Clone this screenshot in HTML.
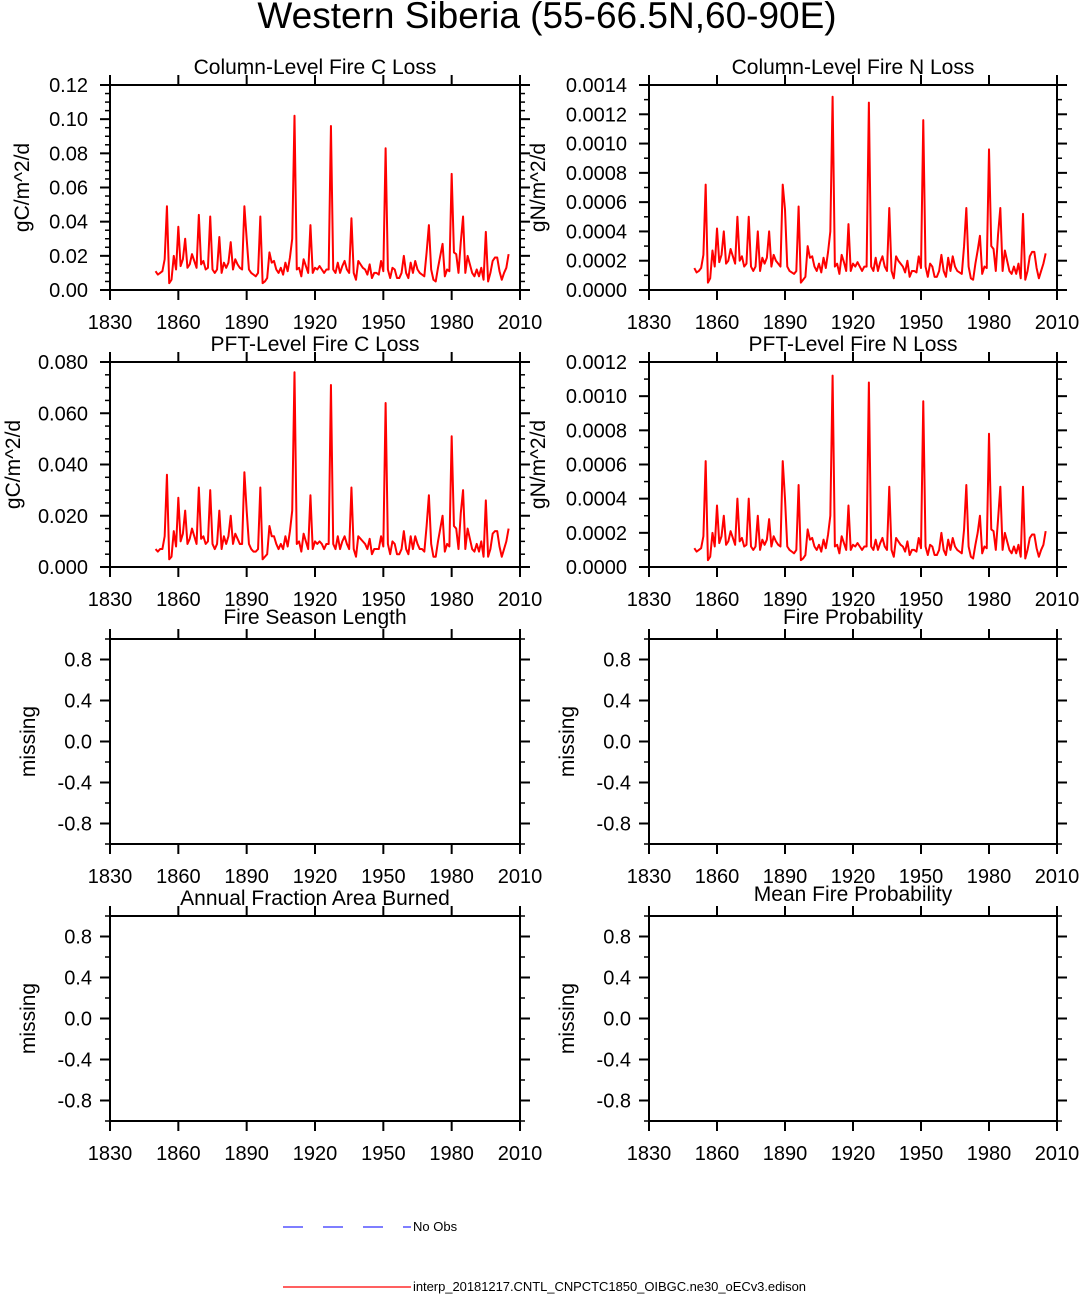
<!DOCTYPE html>
<html><head><meta charset="utf-8"><style>
html,body{margin:0;padding:0;background:#fff;}
svg text{font-family:"Liberation Sans",Arial,sans-serif;fill:#000;}
</style></head><body>
<svg id="fig" xmlns="http://www.w3.org/2000/svg" width="1080" height="1295" viewBox="0 0 1080 1295">
<text x="547" y="28" font-size="37" text-anchor="middle">Western Siberia (55-66.5N,60-90E)</text>
<g>
<line x1="283" y1="1227" x2="411" y2="1227" stroke="#3030ff" stroke-width="1.2" stroke-dasharray="20,20"/>
<text x="413" y="1231" font-size="13">No Obs</text>
<line x1="283" y1="1287" x2="411" y2="1287" stroke="#ff0000" stroke-width="1.2"/>
<text x="413" y="1291" font-size="13" textLength="393">interp_20181217.CNTL_CNPCTC1850_OIBGC.ne30_oECv3.edison</text>
</g>
</svg>
<script>
const years0 = 1850;
const xTicks = [1830,1860,1890,1920,1950,1980,2010];
// Column-level fire C loss (units of 0.001 gC/m^2/d)
const colC = [11,9,10,11,18,49,4,6,20,12, 37,14,18,30,13,15,21,17,13,44, 15,17,12,13,43,12,10,12,31,10, 16,13,16,28,12,18,15,13,12,49, 30,12,10,9,8,10,43,4,5,7, 22,16,17,12,10,13,9,16,11,19, 30,102,12,13,8,18,14,10,38,10, 13,12,14,12,10,12,12,96,12,10, 16,10,14,17,12,10,42,10,6,17, 15,13,12,9,15,7,10,10,9,17, 11,83,12,7,13,12,7,7,10,20, 10,7,16,10,17,12,10,9,8,22, 38,12,6,5,13,20,27,8,12,11, 68,22,21,10,28,43,10,20,15,10, 8,12,8,13,6,34,5,10,17,19, 19,11,6,10,13,21];
// Column-level fire N loss (units of 1e-5 gN/m^2/d)
const colN = [15,12,13,15,24,72,5,8,27,16, 42,19,24,40,18,20,28,23,18,50, 20,23,16,18,50,16,13,16,40,13, 22,18,22,40,16,24,20,18,16,72, 55,16,13,12,11,13,57,5,7,9, 30,22,23,16,13,18,12,22,15,26, 40,132,16,18,11,24,19,13,45,13, 18,16,19,16,13,16,16,128,16,13, 22,13,19,23,16,13,56,13,8,23, 20,18,16,12,20,9,13,13,12,23, 15,116,16,9,18,16,9,9,13,24, 13,9,22,13,23,16,13,12,11,30, 56,16,8,7,18,27,37,11,16,15, 96,30,28,13,38,56,13,27,20,13, 11,16,11,18,8,52,7,13,23,26, 26,15,8,13,18,25];
// PFT-level fire C loss (units of 0.001 gC/m^2/d)
const pftC = [7,6,7,7,12,36,3,4,14,8, 27,10,13,22,9,11,15,12,9,31, 11,12,9,10,30,9,7,9,22,7, 12,9,12,20,9,13,11,9,9,37, 22,9,7,6,6,7,31,3,4,5, 16,12,12,9,7,9,7,12,8,14, 22,76,9,10,6,13,10,7,28,7, 10,9,10,9,7,9,9,71,9,7, 12,7,10,12,9,7,31,7,4,12, 11,10,9,7,11,5,7,7,7,12, 8,64,9,5,10,9,5,5,7,14, 7,5,12,7,12,9,7,7,6,16, 28,9,4,4,10,15,20,6,9,8, 51,16,15,7,21,30,7,15,11,7, 6,9,6,10,4,26,4,7,13,14, 14,8,4,7,10,15];
// PFT-level fire N loss (units of 1e-5 gN/m^2/d)
const pftN = [11,9,10,11,18,62,4,6,20,12, 36,14,18,30,13,15,21,17,13,40, 15,17,12,13,40,12,10,12,30,10, 16,13,16,28,12,18,15,13,12,62, 40,12,10,9,8,10,48,4,5,7, 22,16,17,12,10,13,9,16,11,19, 30,112,12,13,8,18,14,10,36,10, 13,12,14,12,10,12,12,108,12,10, 16,10,14,17,12,10,47,10,6,17, 15,13,12,9,15,7,10,10,9,17, 11,97,12,7,13,12,7,7,10,20, 10,7,16,10,17,12,10,9,8,22, 48,12,6,5,13,20,30,8,12,11, 78,22,21,10,28,47,10,20,15,10, 8,12,8,13,6,47,5,10,17,19, 19,11,6,10,13,21];
const ticksC1 = ["0.00","0.02","0.04","0.06","0.08","0.10","0.12"];
const ticksN = ["0.0000","0.0002","0.0004","0.0006","0.0008","0.0010","0.0012","0.0014"];
const ticksC2 = ["0.000","0.020","0.040","0.060","0.080"];
const ticksN2 = ["0.0000","0.0002","0.0004","0.0006","0.0008","0.0010","0.0012"];
const ticksMiss = ["-0.8","-0.4","0.0","0.4","0.8"];

const NS="http://www.w3.org/2000/svg";
const svg=document.getElementById('fig');
function mk(tag,attrs,parent){const e=document.createElementNS(NS,tag);for(const k in attrs)e.setAttribute(k,attrs[k]);(parent||svg).appendChild(e);return e;}

const panels=[
 {name:'column-fire-c-loss',title:'Column-Level Fire C Loss',ytitle:'gC/m^2/d',col:0,row:0,ymin:0,ymax:0.12,major:0.02,minor:0.005,labels:ticksC1,data:colC,unit:0.001,tx:0,yo:88},
 {name:'column-fire-n-loss',title:'Column-Level Fire N Loss',ytitle:'gN/m^2/d',col:1,row:0,ymin:0,ymax:0.0014,major:0.0002,minor:0.0001,labels:ticksN,data:colN,unit:1e-5,tx:0,yo:111},
 {name:'pft-fire-c-loss',title:'PFT-Level Fire C Loss',ytitle:'gC/m^2/d',col:0,row:1,ymin:0,ymax:0.08,major:0.02,minor:0.005,labels:ticksC2,data:pftC,unit:0.001,tx:0,yo:97},
 {name:'pft-fire-n-loss',title:'PFT-Level Fire N Loss',ytitle:'gN/m^2/d',col:1,row:1,ymin:0,ymax:0.0012,major:0.0002,minor:0.0001,labels:ticksN2,data:pftN,unit:1e-5,tx:0,yo:111},
 {name:'fire-season-length',title:'Fire Season Length',ytitle:'missing',col:0,row:2,ymin:-1,ymax:1,major:0.4,minor:0.2,labels:ticksMiss,data:null,start:-0.8,tx:4,ty:-4,yo:82},
 {name:'fire-probability',title:'Fire Probability',ytitle:'missing',col:1,row:2,ymin:-1,ymax:1,major:0.4,minor:0.2,labels:ticksMiss,data:null,start:-0.8,tx:4,ty:-4,yo:82},
 {name:'annual-fraction-area-burned',title:'Annual Fraction Area Burned',ytitle:'missing',col:0,row:3,ymin:-1,ymax:1,major:0.4,minor:0.2,labels:ticksMiss,data:null,start:-0.8,tx:4,ty:0,yo:82},
 {name:'mean-fire-probability',title:'Mean Fire Probability',ytitle:'missing',col:1,row:3,ymin:-1,ymax:1,major:0.4,minor:0.2,labels:ticksMiss,data:null,start:-0.8,tx:4,ty:-4,yo:82}
];
const colX=[[110,520],[649,1057]];
const rowY=[85,362,639,916];
const H=205;

panels.forEach(p=>{
 const [L,R]=colX[p.col]; const T=rowY[p.row]; const B=T+H;
 const g=mk('g',{});
 
 
 const xs=v=>L+(v-1830)/(2010-1830)*(R-L);
 const ys=v=>B-(v-p.ymin)/(p.ymax-p.ymin)*H;
 if(p.data){
  let d='';
  p.data.forEach((v,i)=>{d+=(i?'L':'M')+xs(years0+i).toFixed(2)+','+ys(v*p.unit).toFixed(2);});
  const path=mk('path',{d:d,fill:'none',stroke:'#ff0000','stroke-width':2,'stroke-linejoin':'round'},g);
  
  
 }
 const fr=mk('rect',{x:L,y:T,width:R-L,height:H,fill:'none',stroke:'#000','stroke-width':2},g);
 
 
 xTicks.forEach(t=>{
  const x=xs(t);
  mk('line',{x1:x,y1:B,x2:x,y2:B+10,stroke:'#000','stroke-width':2},g);
  mk('line',{x1:x,y1:T,x2:x,y2:T-10,stroke:'#000','stroke-width':2},g);
  const tl=mk('text',{x:x,y:B+39,'font-size':20,'text-anchor':'middle'},g);
  tl.textContent=t;
  
  
 });
 const start=p.start!==undefined?p.start:p.ymin;
 const nMinor=Math.round((p.ymax-p.ymin)/p.minor);
 for(let k=0;k<=nMinor;k++){
  const v=p.ymin+k*p.minor; const y=ys(v);
  mk('line',{x1:L,y1:y,x2:L-5,y2:y,stroke:'#000','stroke-width':1.5},g);
  mk('line',{x1:R,y1:y,x2:R+5,y2:y,stroke:'#000','stroke-width':1.5},g);
 }
 p.labels.forEach((lab,i)=>{
  const v=start+i*p.major; const y=ys(v);
  mk('line',{x1:L,y1:y,x2:L-10,y2:y,stroke:'#000','stroke-width':2},g);
  mk('line',{x1:R,y1:y,x2:R+10,y2:y,stroke:'#000','stroke-width':2},g);
  const tl=mk('text',{x:L-22+(p.tx||0),y:y+7,'font-size':20,'text-anchor':'end'},g);
  tl.textContent=lab;
  
  
 });
 const tt=mk('text',{x:(L+R)/2,y:T-11+(p.ty||0),'font-size':21,'text-anchor':'middle'},g);
 tt.textContent=p.title;
 
 
 const yx = L-p.yo+7;
 const yt=mk('text',{x:0,y:0,'font-size':21,'text-anchor':'middle',transform:'translate('+(yx)+','+((T+B)/2)+') rotate(-90)'},g);
 yt.textContent=p.ytitle;
 
 
});
</script>
</body></html>
